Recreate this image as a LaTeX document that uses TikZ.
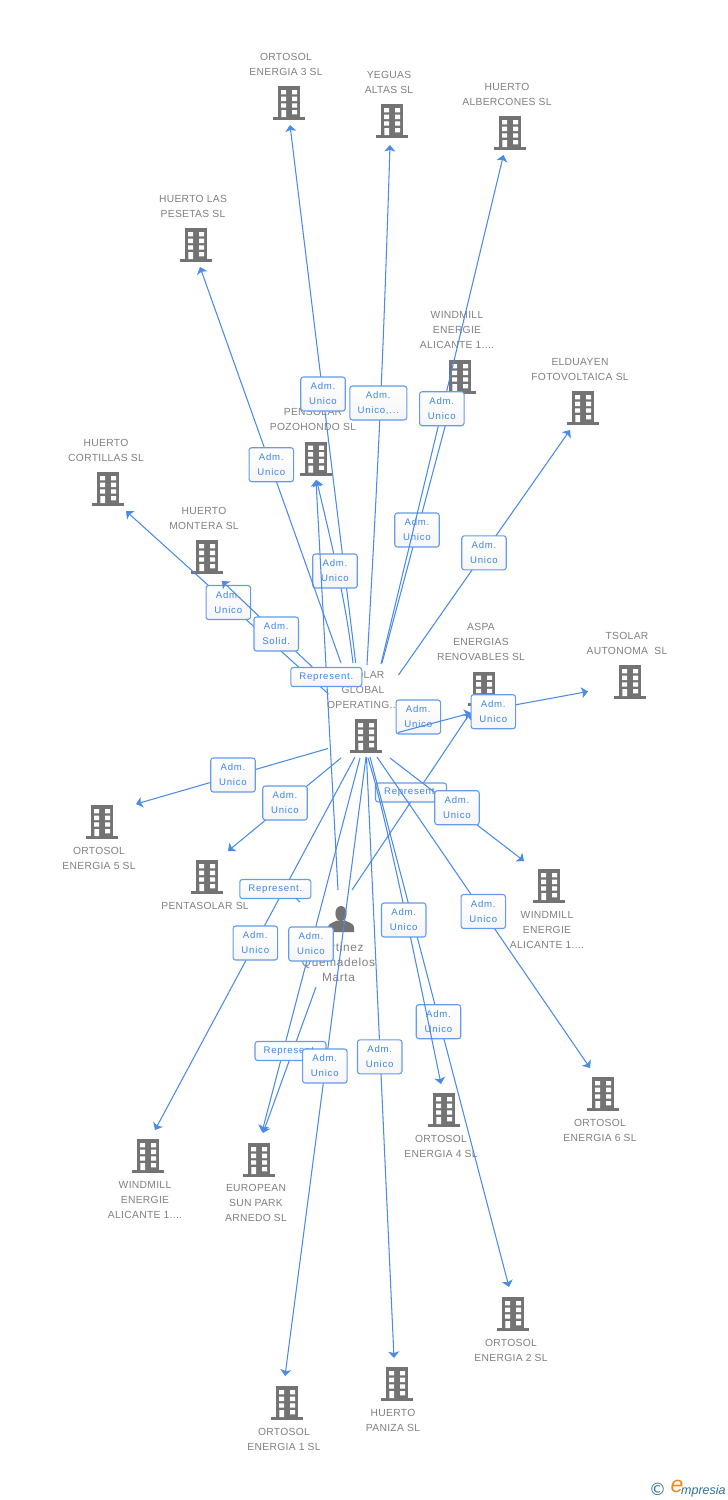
\documentclass[tikz,border=0pt]{standalone}
\usepackage{fontspec}
\setmainfont{Liberation Sans}
\newfontfamily\gfont[LetterSpace=3]{Liberation Sans}
\newfontfamily\pfont[LetterSpace=6]{Liberation Sans}
\newfontfamily\bfont[LetterSpace=8]{Liberation Sans}
\newfontfamily\logofont{DejaVu Sans}
\usetikzlibrary{arrows.meta}
\definecolor{icongray}{HTML}{737373}
\definecolor{txtgray}{HTML}{808080}
\definecolor{linkblue}{HTML}{4A8BE8}
\definecolor{labtxt}{HTML}{3F86E6}
\definecolor{labedge}{HTML}{649BEA}
\definecolor{logoteal}{HTML}{2F7391}
\definecolor{logoorange}{HTML}{F08A1E}
\tikzset{
  x=1pt,y=-1pt,
  conn/.style={draw=linkblue,line width=1.05pt},
  arr/.style={conn,-{Stealth[length=6.5pt,width=11pt,inset=1.6pt]}},
  labbase/.style={draw=labedge,line width=1.1pt,rounded corners=2.6pt,top color=white,bottom color=white!96!black,inner sep=0pt,align=center,text=labtxt,font=\bfont\fontsize{9.6}{15}\selectfont},
  lab/.style={labbase,minimum width=44.5pt,minimum height=34pt},
  labw/.style={labbase,minimum width=57pt,minimum height=34pt},
  labr/.style={labbase,minimum width=71pt,minimum height=19pt},
  ntext/.style={inner sep=0pt,align=center,text=txtgray,font=\gfont\fontsize{10.3}{15}\selectfont},
  ptext/.style={inner sep=0pt,align=center,text=txtgray,font=\pfont\fontsize{11.8}{15}\selectfont},
  bicon/.style={inner sep=0pt,minimum width=32pt,minimum height=34pt},
}
% building icon: name, centre x, top y, label x, label y, label text
\newcommand{\bld}[6]{%
  \node[bicon] (#1) at (#2,#3+17) {};
  \begin{scope}[shift={(#2,#3)}]
    \fill[icongray] (-11.3,0) rectangle (11.3,31.5);
    \fill[icongray] (-16,31) rectangle (16,34);
    \fill[white] (-8,4) rectangle (-3,8.3) (3,4) rectangle (8,8.3)
      (-8,10.7) rectangle (-3,15) (3,10.7) rectangle (8,15)
      (-8,17.3) rectangle (-3,21.6) (3,17.3) rectangle (8,21.6)
      (-7.6,24) rectangle (-3,31) (3,24) rectangle (8,28.3);
  \end{scope}
  \node[ntext] (#1-t) at (#4,#5) {#6};
}
% connector: id, start x,y, end x,y, label x,y, label style, label text
\newcommand{\edge}[9]{%
  \coordinate (#1-a) at (#2,#3);
  \coordinate (#1-b) at (#4,#5);
  \draw[arr] (#1-a) -- (#1-b);
  \edgelab{#1}{#6}{#7}{#8}{#9}
}
\newcommand{\edgelab}[5]{\node[#4] (#1-l) at (#2,#3) {#5};}
\begin{document}
\begin{tikzpicture}
\useasboundingbox (0,0) rectangle (728,1500);
\fill[white] (0,0) rectangle (728,1500);
% buildings
\bld{eg3}{289}{86}{286}{64.5}{ORTOSOL\\ENERGIA 3 SL}
\bld{yeg}{392}{104}{389}{82.5}{YEGUAS\\ALTAS SL}
\bld{alb}{510}{116}{507}{94.5}{HUERTO\\ALBERCONES SL}
\bld{pes}{196}{228}{193}{206.5}{HUERTO LAS\\PESETAS SL}
\bld{wmt}{460}{360}{457}{330}{WINDMILL\\ENERGIE\\ALICANTE 1....}
\bld{eld}{583}{391}{580}{369.5}{ELDUAYEN\\FOTOVOLTAICA SL}
\bld{pen}{316}{441.5}{313}{419.5}{PENSOLAR\\POZOHONDO SL}
\bld{cor}{108}{472}{106}{450.5}{HUERTO\\CORTILLAS SL}
\bld{mon}{207}{540}{204}{518.5}{HUERTO\\MONTERA SL}
\bld{asp}{484}{671.5}{481}{642}{ASPA\\ENERGIAS\\RENOVABLES SL}
\bld{tso}{630}{665}{627}{643.5}{TSOLAR\\AUTONOMA\ \ SL}
\bld{hub}{366}{719}{363}{690}{TSOLAR\\GLOBAL\\OPERATING...}
\bld{eg5}{102}{805}{99}{858.5}{ORTOSOL\\ENERGIA 5 SL}
\bld{pta}{207}{860}{205}{906}{PENTASOLAR SL}
\bld{wmr}{549}{869}{547}{930}{WINDMILL\\ENERGIE\\ALICANTE 1....}
\bld{eg6}{603}{1077}{600}{1130.5}{ORTOSOL\\ENERGIA 6 SL}
\bld{eg4}{444}{1093}{441}{1146.5}{ORTOSOL\\ENERGIA 4 SL}
\bld{wml}{148}{1139}{145}{1200}{WINDMILL\\ENERGIE\\ALICANTE 1....}
\bld{eur}{259}{1143}{256}{1203}{EUROPEAN\\SUN PARK\\ARNEDO SL}
\bld{eg2}{513}{1297}{511}{1350.5}{ORTOSOL\\ENERGIA 2 SL}
\bld{pan}{397}{1367}{393}{1420.5}{HUERTO\\PANIZA SL}
\bld{eg1}{287}{1386}{284}{1439.5}{ORTOSOL\\ENERGIA 1 SL}
% person
\node[inner sep=0pt,minimum width=26pt,minimum height=26pt] (per) at (341,919) {};
\fill[icongray] (341,913.5) ellipse (5.6 and 7.6);
\fill[icongray] (328,932) -- (328,927) .. controls (328.5,923.5) and (333,922.5) .. (337,920.5) -- (345,920.5) .. controls (349,922.5) and (353.5,923.5) .. (354,927) -- (354,932) -- cycle;
\node[ptext] (per-t) at (338.5,962) {Martinez\\Quemadelos\\Marta};
% connectors and their labels, in stacking order
\edge{r1}{352}{890}{470.5}{712.5}{411}{792.5}{labr}{Represent.}
\edge{e1}{355.7}{663}{290}{125}{323}{394}{lab}{Adm.\\Unico}
\coordinate (e2-a) at (367,665);
\coordinate (e2-b) at (390,145);
\draw[arr] (e2-a) .. controls (376,500) and (382,400) .. (e2-b);
\node[labw] (e2-l) at (378.3,403) {Adm.\\Unico,...};
\edge{e3}{382}{663}{454}{393}{417}{530}{lab}{Adm.\\Unico}
\edge{e4}{381}{664}{503.5}{155}{441.8}{408.7}{lab}{Adm.\\Unico}
\coordinate (e5-a) at (353,663);
\coordinate (e5-b) at (316.5,480);
\draw[arr] (e5-a) .. controls (348,622) and (343,590) .. (e5-b);
\node[lab] (e5-l) at (335,571) {Adm.\\Unico};
\edge{e6}{341}{663}{200}{267}{271.3}{464.7}{lab}{Adm.\\Unico}
\edge{e7}{328.5}{694}{126}{511}{228.3}{602.5}{lab}{Adm.\\Unico}
\edge{e8}{328}{682}{222}{581}{276.2}{634}{lab}{Adm.\\Solid.}
\edge{r2}{338}{890}{316}{480}{326.3}{677}{labr}{Represent.}
\edge{e9}{398.5}{675}{570}{430}{484}{552.8}{lab}{Adm.\\Unico}
\node[lab] (e10-l) at (418.3,717) {Adm.\\Unico};
\coordinate (e10-a) at (398,732.5);
\coordinate (e10-b) at (471,713);
\draw[arr] (e10-a) -- (e10-b);
\coordinate (e11-b) at (588,691.5);
\draw[arr] (e10-b) -- (e11-b);
\node[lab] (e11-l) at (493.3,711.7) {Adm.\\Unico};
\edge{e12}{328}{748.5}{136}{804}{233}{775}{lab}{Adm.\\Unico}
\edge{e13}{341}{758}{228}{851}{285}{803}{lab}{Adm.\\Unico}
\edge{e14}{355}{757}{155}{1130}{255.3}{943}{lab}{Adm.\\Unico}
\edge{e15}{360}{758}{262}{1132}{311}{944}{lab}{Adm.\\Unico}
\edge{r3}{316}{987}{263}{1133}{290.5}{1051}{labr}{Represent.}
\edge{e16}{366}{757}{285}{1376}{324.8}{1066}{lab}{Adm.\\Unico}
\edge{e17}{366.5}{757}{394}{1358}{379.7}{1056.8}{lab}{Adm.\\Unico}
\coordinate (e18-a) at (370,757);
\coordinate (e18-b) at (509,1287);
\draw[arr] (e18-a) -- (e18-b);
\node[lab] (e18-l) at (438.5,1021.7) {Adm.\\Unico};
\coordinate (e19-a) at (368,758);
\coordinate (e19-b) at (441,1084);
\draw[arr] (e19-a) .. controls (375,782) and (385,810) .. (e19-b);
\node[lab] (e19-l) at (403.7,920) {Adm.\\Unico};
\edge{e20}{377}{757}{590}{1068}{483.3}{911.5}{lab}{Adm.\\Unico}
\edge{e21}{390}{758}{524}{861}{457}{807.7}{lab}{Adm.\\Unico}
\coordinate (r4-a) at (300,902);
\node[labr] (r4-l) at (275.3,889) {Represent.};
\draw[conn] (r4-a) -- (296.5,898.5);
% logo
\node[inner sep=0pt,text=logoteal,font=\logofont\fontsize{17}{17}\selectfont] (logo-c) at (657.5,1489) {©};
\node[inner sep=0pt,text=logoorange,font=\rmfamily\itshape\fontsize{23}{23}\selectfont] (logo-e) at (677,1486) {e};
\node[inner sep=0pt,anchor=west,text=logoteal,font=\itshape\fontsize{12.5}{12.5}\selectfont] (logo-t) at (681,1491) {mpresia};
\end{tikzpicture}
\end{document}
